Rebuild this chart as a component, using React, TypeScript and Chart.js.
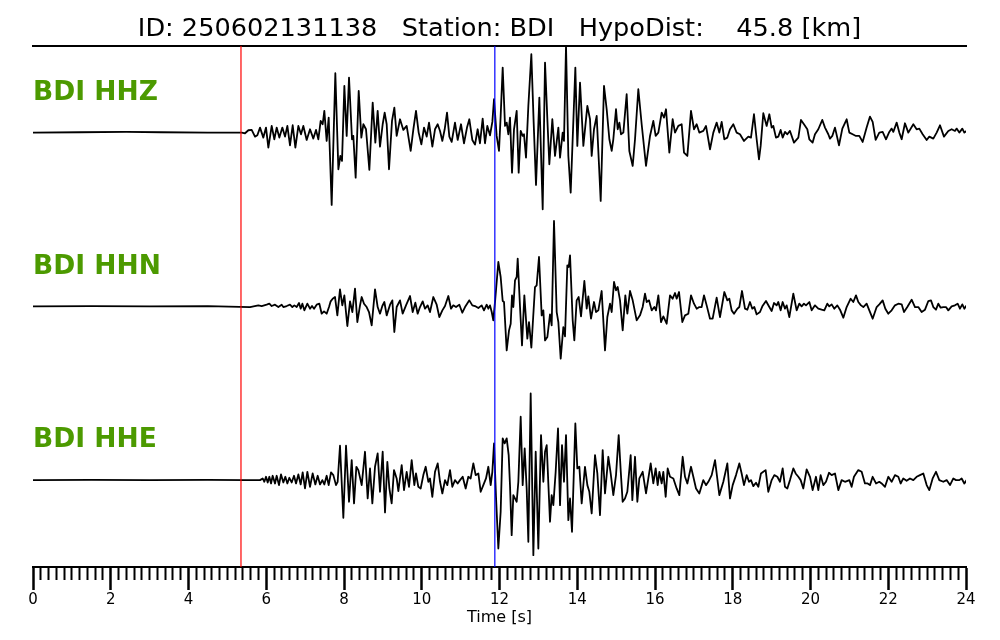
import React, { useEffect, useRef } from "react";
import { Chart, registerables } from "chart.js";

Chart.register(...registerables);

// ---- text ----
const TITLE = "ID: 250602131138   Station: BDI   HypoDist:    45.8 [km]";
const X_TITLE = "Time [s]";
const CHANNELS = ["BDI HHZ", "BDI HHN", "BDI HHE"];
const CHANNEL_OFFSETS = [0, -1, -2];

// ---- axes ----
const X_MIN = 0;
const X_MAX = 24;
const X_MAJOR = 2;
const X_MINOR = 0.2;
const Y_MIN = -2.5;
const Y_MAX = 0.5;

// ---- picks (s) ----
const P_PICK = 5.35;
const S_PICK = 11.88;

// amplitude scaling: counts -> trace-spacing units
const GAIN = 1 / 521;

// ---- waveforms: [time (s), amplitude (counts)] ----
const HHZ: [number, number][] = [
  [0, 0], [1.2, 1], [2.4, 2], [3.3, 1], [4.5, 0], [5.37, 0],
  [5.454, -2], [5.54, 7], [5.625, 8], [5.711, -12], [5.771, -8], [5.84, 15], [5.925, -15], [5.994, 15], [6.054, -45], [6.14, 20], [6.208, -20], [6.268, 15], [6.337, -15], [6.414, 15], [6.483, -12], [6.543, 20], [6.611, -38], [6.68, 22], [6.749, -45], [6.826, 20], [6.894, -5], [6.954, 20], [7.04, -22], [7.126, 10], [7.211, -18], [7.28, 8], [7.34, -20], [7.4, 35], [7.451, 25], [7.494, 65], [7.554, -25], [7.606, 45], [7.683, -217], [7.777, 178], [7.855, -110], [7.906, -70], [7.949, -85], [8.009, 140], [8.069, -10], [8.129, 165], [8.206, -20], [8.24, -10], [8.3, -135], [8.378, 125], [8.446, -15], [8.498, 25], [8.566, 10], [8.652, -112], [8.738, 90], [8.806, -30], [8.866, 65], [8.926, -42], [8.995, 25], [9.046, 60], [9.098, 25], [9.158, -110], [9.235, 35], [9.295, 75], [9.355, -10], [9.441, 40], [9.527, 8], [9.612, 20], [9.715, -55], [9.784, 10], [9.852, 65], [9.921, 0], [9.99, -35], [10.058, 15], [10.127, -12], [10.187, 30], [10.273, -42], [10.341, 10], [10.41, 25], [10.47, 5], [10.53, -25], [10.59, 10], [10.65, 60], [10.71, -12], [10.77, -28], [10.855, 30], [10.924, -22], [11.01, 25], [11.087, -32], [11.164, 15], [11.224, 40], [11.301, -22], [11.37, -36], [11.438, 10], [11.498, -32], [11.567, 42], [11.627, -32], [11.687, 20], [11.756, -8], [11.816, 32], [11.859, 100],
  [11.927, -10], [11.987, -55], [12.03, 50], [12.082, 195], [12.142, 20], [12.185, 30], [12.228, -5], [12.27, 45], [12.322, -120], [12.373, 10], [12.442, 65], [12.493, -120], [12.545, 5], [12.596, -10], [12.63, -5], [12.682, -75], [12.742, 80], [12.819, 235], [12.879, 30], [12.939, -157], [13.025, 105], [13.111, -230], [13.171, 210], [13.231, 40], [13.282, -95], [13.359, 40], [13.428, -70], [13.514, 15], [13.557, -75], [13.625, 0], [13.659, -25], [13.711, 260], [13.771, -70], [13.831, -180], [13.951, 195], [14.002, -40], [14.071, 150], [14.157, -40], [14.26, 80], [14.328, 40], [14.371, -70], [14.431, 10], [14.5, 50], [14.603, -205], [14.688, 140], [14.757, 70], [14.826, -20], [14.886, -55], [14.928, -20], [14.997, 70], [15.04, 10], [15.083, 30], [15.126, -5], [15.186, 0], [15.271, 115], [15.34, -55], [15.426, -100], [15.486, -20], [15.571, 130], [15.657, 25], [15.769, -100], [15.872, -10], [15.957, 35], [16.017, -10], [16.086, 0], [16.172, 60], [16.232, 45], [16.283, 70], [16.369, -60], [16.454, 40], [16.515, 0], [16.6, 20], [16.686, 25], [16.746, -60], [16.832, -70], [16.926, 65], [17.003, 10], [17.072, 25], [17.14, 0], [17.243, 5], [17.312, 20], [17.415, -50], [17.5, 0], [17.586, 30], [17.655, 0], [17.715, 32], [17.784, -20], [17.861, -15], [17.929, 10],
  [18.015, 25], [18.1, 0], [18.186, -5], [18.289, -25], [18.401, -12], [18.469, -15], [18.546, 55], [18.615, -20], [18.675, -80], [18.718, -40], [18.786, 58], [18.872, 20], [18.941, 55], [19.001, 15], [19.044, 20], [19.112, -15], [19.172, -12], [19.232, 8], [19.284, -15], [19.344, 2], [19.404, -5], [19.472, 5], [19.575, -30], [19.687, -15], [19.755, 38], [19.832, 25], [19.918, 10], [19.97, -20], [20.055, -30], [20.115, -5], [20.201, 10], [20.304, 38], [20.373, 15], [20.458, -5], [20.501, -18], [20.561, -10], [20.63, 15], [20.733, -38], [20.819, 12], [20.93, 40], [20.999, 0], [21.084, -5], [21.17, -10], [21.256, -10], [21.341, -28], [21.444, 15], [21.53, 48], [21.599, 32], [21.676, -22], [21.77, 0], [21.856, 2], [21.942, -20], [22.027, 2], [22.087, 12], [22.13, 2], [22.216, 30], [22.285, 0], [22.345, -20], [22.43, 28], [22.516, 0], [22.645, 25], [22.73, 10], [22.799, 12], [22.885, -5], [22.988, -22], [23.056, -12], [23.159, -18], [23.245, 0], [23.331, 22], [23.433, -12], [23.545, 5], [23.631, 10], [23.716, 5], [23.759, 12], [23.828, 0], [23.905, 12], [23.957, 0], [24.017, 5],
];

const HHN: [number, number][] = [
  [0, 0], [1.5, 1], [3, 0], [4.5, 1], [5.582, -2], [5.797, 3], [5.883, 1], [6.011, 5], [6.08, 8], [6.14, 1], [6.225, 5], [6.311, -2], [6.397, 5], [6.44, -2], [6.526, 1], [6.611, 5], [6.671, -2], [6.723, 3], [6.783, -2], [6.843, 10], [6.886, -7], [6.929, 8], [6.98, -12], [7.057, 8], [7.126, -7], [7.177, 1], [7.229, -7], [7.297, 5], [7.366, 8], [7.426, -22], [7.486, -15], [7.554, -22], [7.614, -2], [7.657, 15], [7.709, 23], [7.769, 28], [7.829, -27], [7.897, 51], [7.957, 3], [8.009, 33], [8.086, -59], [8.155, 15], [8.215, -17], [8.283, 53], [8.343, -47], [8.412, 3], [8.455, 28], [8.515, 8], [8.583, -2], [8.643, -17], [8.712, -57], [8.798, 51], [8.866, -2], [8.926, -22], [8.986, 1], [9.038, 13], [9.098, -27], [9.184, 5], [9.244, 18], [9.295, -77], [9.355, -2], [9.441, 18], [9.509, -22], [9.595, 3], [9.698, 31], [9.767, -17], [9.835, 11], [9.895, -22], [9.955, -2], [10.024, 15], [10.084, -7], [10.152, 3], [10.212, -17], [10.298, 28], [10.384, 5], [10.452, -32], [10.53, -12], [10.598, 1], [10.684, 31], [10.753, -7], [10.812, 3], [10.881, -2], [10.967, 5], [11.044, -19], [11.113, -2], [11.224, 18], [11.301, 3], [11.37, 1], [11.456, -5], [11.541, 3], [11.601, -12], [11.67, 5], [11.713, -7], [11.756, 3], [11.8, -17], [11.84, -42], [11.89, 20], [11.97, 133],
  [12.03, 88], [12.082, 16], [12.116, 13], [12.185, -132], [12.245, -72], [12.288, -52], [12.322, 33], [12.356, -2], [12.399, 78], [12.442, 88], [12.468, 143], [12.528, -2], [12.579, -117], [12.639, 33], [12.716, -97], [12.759, -47], [12.819, -124], [12.913, 58], [12.956, 63], [13.016, 148], [13.085, -27], [13.128, -12], [13.171, -102], [13.231, -92], [13.299, -24], [13.342, -57], [13.402, 256], [13.471, -17], [13.514, -47], [13.574, -157], [13.642, -62], [13.685, -90], [13.745, 123], [13.78, 118], [13.814, 153], [13.883, -42], [13.925, -102], [13.985, 18], [14.037, 28], [14.097, -30], [14.183, 76], [14.243, -7], [14.285, 30], [14.354, -37], [14.431, 13], [14.483, -17], [14.543, -12], [14.628, 46], [14.714, -132], [14.774, -32], [14.843, 8], [14.886, -17], [14.946, 73], [14.997, 48], [15.04, 58], [15.1, 18], [15.169, -72], [15.237, 33], [15.289, -22], [15.357, 46], [15.426, 18], [15.529, -42], [15.614, -27], [15.683, -2], [15.743, 38], [15.786, 13], [15.846, 18], [15.915, -12], [15.983, -2], [16.026, -12], [16.086, 33], [16.155, -47], [16.215, -30], [16.3, -52], [16.386, 33], [16.454, 23], [16.515, 40], [16.558, 23], [16.618, 43], [16.703, -47], [16.772, -27], [16.858, -22], [16.926, 33], [17.003, 8], [17.072, -7], [17.14, -2], [17.2, -2], [17.26, 33], [17.329, 3], [17.415, -37], [17.483, -37], [17.586, 26], [17.672, -32], [17.784, 43], [17.861, 18], [17.912, 23],
  [17.972, -12], [18.032, -22], [18.118, -7], [18.169, -2], [18.238, 46], [18.315, -7], [18.375, -10], [18.443, 13], [18.503, -7], [18.555, -2], [18.615, -24], [18.701, -17], [18.761, 0], [18.855, 16], [18.941, -2], [19.001, -14], [19.061, 10], [19.129, 3], [19.172, 13], [19.232, -12], [19.284, 13], [19.344, -7], [19.387, 3], [19.455, -32], [19.558, 38], [19.644, -12], [19.712, 8], [19.772, 0], [19.832, 8], [19.884, 3], [19.97, 13], [20.03, -12], [20.115, 3], [20.201, -7], [20.287, -10], [20.355, -12], [20.433, 8], [20.484, 0], [20.544, 6], [20.613, -7], [20.69, 3], [20.759, -10], [20.844, -34], [20.93, -2], [21.033, 23], [21.101, 13], [21.17, 33], [21.23, 13], [21.299, 3], [21.359, -2], [21.444, 8], [21.513, -12], [21.599, -37], [21.702, -2], [21.77, 6], [21.856, 18], [21.925, -7], [22.002, -22], [22.087, -12], [22.173, 3], [22.259, 8], [22.345, 6], [22.405, -17], [22.49, -2], [22.602, 20], [22.688, -2], [22.773, -2], [22.859, -17], [22.945, -10], [23.031, 16], [23.099, 18], [23.159, -2], [23.228, -10], [23.288, 8], [23.348, -4], [23.417, -2], [23.485, -2], [23.545, -12], [23.631, 0], [23.716, 3], [23.785, 8], [23.845, -7], [23.905, 6], [23.957, -7], [24.017, 3],
];

const HHE: [number, number][] = [
  [0, 0], [1.5, 1], [3, 0], [4.5, 1], [5.5, 0], [5.84, 0], [5.908, 5], [5.951, -5], [5.994, 10], [6.037, -7], [6.08, 10], [6.123, -10], [6.165, 13], [6.225, -10], [6.268, 13], [6.328, -15], [6.38, 17], [6.44, -7], [6.491, 10], [6.543, -10], [6.594, 7], [6.654, -7], [6.714, 13], [6.766, -10], [6.826, 17], [6.886, -13], [6.937, 23], [6.997, -25], [7.057, 25], [7.126, -20], [7.194, 20], [7.263, -13], [7.323, 13], [7.383, -13], [7.443, 0], [7.494, -13], [7.554, 13], [7.606, -15], [7.666, 23], [7.726, 15], [7.794, -15], [7.837, -5], [7.897, 103], [7.983, -113], [8.052, 103], [8.129, -65], [8.198, 60], [8.258, -70], [8.318, 40], [8.369, 30], [8.455, -15], [8.54, 85], [8.609, -55], [8.669, 35], [8.729, -70], [8.798, 40], [8.866, 80], [8.926, -35], [8.995, 85], [9.055, -97], [9.115, 55], [9.167, -25], [9.226, -70], [9.286, 30], [9.355, 5], [9.398, -33], [9.484, 45], [9.544, -30], [9.612, 25], [9.672, -20], [9.741, 60], [9.809, -15], [9.852, 20], [9.912, -20], [9.972, -25], [10.041, 15], [10.101, 40], [10.17, -5], [10.212, 5], [10.272, -50], [10.341, 25], [10.41, 50], [10.47, -5], [10.53, -40], [10.598, 0], [10.658, -15], [10.727, 30], [10.787, -20], [10.855, 0], [10.924, -10], [10.984, 0], [11.053, 10], [11.13, -25], [11.198, 10], [11.258, 5], [11.327, 50], [11.387, 15], [11.456, 20], [11.516, -35], [11.584, -15], [11.653, 5], [11.713, 40], [11.773, -15], [11.816, 25], [11.859, 110], [11.91, -50], [11.97, -205],
  [12.03, -95], [12.082, 125], [12.133, 110], [12.185, 125], [12.236, 75], [12.27, -15], [12.313, -165], [12.356, -45], [12.442, -65], [12.485, -5], [12.545, 190], [12.596, -15], [12.648, 95], [12.699, -25], [12.742, -185], [12.802, 260], [12.871, -225], [12.931, 85], [12.999, -205], [13.068, 135], [13.128, -5], [13.171, 85], [13.214, 105], [13.299, -125], [13.342, -45], [13.385, -75], [13.445, 25], [13.505, 155], [13.557, -75], [13.608, 105], [13.659, -5], [13.711, 135], [13.771, -120], [13.814, -55], [13.865, -155], [13.951, 170], [14.002, 35], [14.054, 40], [14.114, -70], [14.199, 40], [14.26, -15], [14.311, -35], [14.371, -100], [14.457, 75], [14.517, 20], [14.585, -105], [14.654, 90], [14.714, -40], [14.8, 70], [14.86, 20], [14.928, -45], [14.997, 15], [15.066, 135], [15.117, 30], [15.168, -65], [15.228, -55], [15.288, -35], [15.374, 75], [15.417, -60], [15.486, 70], [15.546, -65], [15.597, 5], [15.683, 25], [15.769, -40], [15.889, 50], [15.957, -10], [16.017, 35], [16.069, -15], [16.112, 25], [16.172, -10], [16.214, 25], [16.275, -50], [16.326, 35], [16.386, 10], [16.472, 5], [16.557, -25], [16.626, -45], [16.712, 70], [16.772, 10], [16.832, -10], [16.926, 40], [16.986, 10], [17.055, -25], [17.14, -40], [17.243, 0], [17.312, -15], [17.372, -5], [17.458, 15], [17.544, 60], [17.655, -45], [17.758, -5], [17.861, 50], [17.929, -55], [17.998, -15], [18.084, 15], [18.169, 50],
  [18.229, 20], [18.289, -15], [18.358, 15], [18.418, -5], [18.469, 0], [18.529, -18], [18.598, -8], [18.658, -20], [18.726, 20], [18.786, 25], [18.846, 30], [18.915, -35], [19.001, 0], [19.069, 15], [19.147, 10], [19.215, -5], [19.284, 35], [19.344, -20], [19.404, -25], [19.472, 0], [19.558, 35], [19.618, 20], [19.687, 10], [19.747, 0], [19.815, -25], [19.901, 32], [19.987, 10], [20.055, -30], [20.141, 10], [20.201, -30], [20.261, 15], [20.33, -15], [20.398, -5], [20.476, 22], [20.544, 15], [20.63, 20], [20.716, -30], [20.801, 0], [20.887, -5], [20.999, 0], [21.058, -20], [21.118, 10], [21.23, 30], [21.316, 25], [21.401, -10], [21.47, -10], [21.53, -15], [21.599, 10], [21.685, -10], [21.77, -5], [21.83, -10], [21.916, -20], [22.002, 10], [22.087, -5], [22.173, 15], [22.259, 10], [22.319, -10], [22.387, 5], [22.473, -2], [22.559, 5], [22.645, 0], [22.73, 10], [22.816, 15], [22.902, 20], [22.988, -15], [23.056, -30], [23.142, 5], [23.228, 25], [23.313, 0], [23.417, -5], [23.502, 0], [23.588, -15], [23.674, 5], [23.742, 0], [23.828, 0], [23.888, 5], [23.957, -10], [24.017, 0],
];

const TRACES = [HHZ, HHN, HHE];

// ---- styles ----
const FONT = "DejaVu Sans";
const LABEL_COLOR = "#4c9a00";
const LABEL_RISE = 0.228;

const isMajor = (v: number) => Math.abs(v / X_MAJOR - Math.round(v / X_MAJOR)) < 1e-6;

const channelLabels = {
  id: "channelLabels",
  afterDatasetsDraw(chart: any) {
    const { ctx, scales } = chart;
    const x = scales.x;
    const y = scales.y;
    ctx.save();
    ctx.font = `bold 26.5px "${FONT}"`;
    ctx.fillStyle = LABEL_COLOR;
    ctx.textAlign = "left";
    ctx.textBaseline = "middle";
    CHANNELS.forEach((name, i) => {
      ctx.fillText(name, x.getPixelForValue(X_MIN), y.getPixelForValue(CHANNEL_OFFSETS[i] + LABEL_RISE));
    });
    ctx.restore();
  },
};

export default function App() {
  const canvasRef = useRef<HTMLCanvasElement | null>(null);

  useEffect(() => {
    document.body.style.margin = "0";
    const canvas = canvasRef.current;
    if (!canvas) return;

    const pickLine = (t: number, color: string) => ({
      data: [
        { x: t, y: Y_MIN },
        { x: t, y: Y_MAX },
      ],
      borderColor: color,
      borderWidth: 1.2,
      pointRadius: 0,
      fill: false,
    });

    const traceSets = TRACES.map((tr, i) => ({
      data: tr.map(([t, a]) => ({ x: t, y: CHANNEL_OFFSETS[i] + a * GAIN })),
      borderColor: "#000000",
      borderWidth: 1.8,
      borderJoinStyle: "round" as const,
      pointRadius: 0,
      tension: 0,
      fill: false,
    }));

    const chart = new Chart(canvas, {
      type: "line",
      data: {
        datasets: [pickLine(P_PICK, "#ff0000"), pickLine(S_PICK, "#0000ff"), ...traceSets],
      },
      options: {
        responsive: false,
        animation: false,
        layout: { padding: { left: 33, right: 34, top: 0, bottom: 0 } },
        plugins: {
          legend: { display: false },
          tooltip: { enabled: false },
          title: {
            display: true,
            text: TITLE,
            color: "#000",
            font: { family: FONT, size: 25.6, weight: "normal" },
            padding: { top: 14, bottom: 1 },
          },
        },
        scales: {
          x: {
            type: "linear",
            position: "bottom",
            min: X_MIN,
            max: X_MAX,
            border: { display: true, color: "#000", width: 2 },
            grid: {
              display: true,
              drawOnChartArea: false,
              drawTicks: true,
              tickLength: 23,
              tickColor: "#000",
              tickWidth: (c: any) => (c.tick && isMajor(c.tick.value) ? 2.5 : 2),
              tickBorderDash: (c: any) => (c.tick && isMajor(c.tick.value) ? [] : [12, 60]),
            },
            ticks: {
              stepSize: X_MINOR,
              autoSkip: false,
              maxRotation: 0,
              padding: 2.5,
              color: "#000",
              font: { family: FONT, size: 15, lineHeight: 1 },
              callback: (v: any) => (isMajor(Number(v)) ? String(Math.round(Number(v))) : ""),
            },
            title: {
              display: true,
              text: X_TITLE,
              color: "#000",
              font: { family: FONT, size: 16, lineHeight: 1 },
              padding: { top: 0, bottom: 14 },
            },
          },
          xTop: {
            type: "linear",
            position: "top",
            min: X_MIN,
            max: X_MAX,
            border: { display: true, color: "#000", width: 2 },
            grid: { display: false, drawTicks: false, drawOnChartArea: false },
            ticks: { display: false },
          },
          y: {
            type: "linear",
            display: false,
            min: Y_MIN,
            max: Y_MAX,
          },
        },
      },
      plugins: [channelLabels],
    });

    return () => chart.destroy();
  }, []);

  return (
    <div style={{ width: 1000, height: 640 }}>
      <canvas ref={canvasRef} width={1000} height={640} style={{ display: "block" }} />
    </div>
  );
}
